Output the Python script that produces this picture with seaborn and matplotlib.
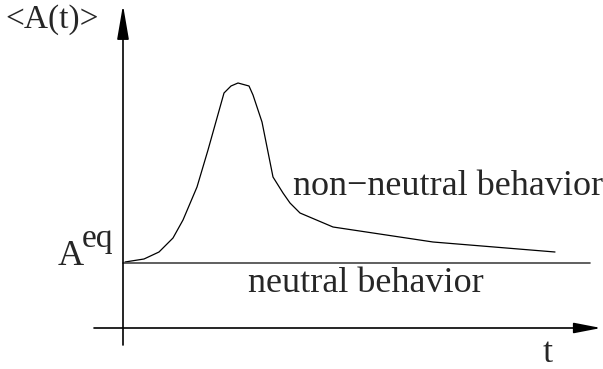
import numpy as np
import pandas as pd
import seaborn as sns
import matplotlib
matplotlib.use("Agg")
import matplotlib.pyplot as plt

t_vals = [2, 21, 36, 50, 60, 74, 85, 101, 108, 115, 126, 130, 139, 150, 160, 167, 177, 210, 310, 432]
a_vals = [1, 4, 11, 25, 43, 76, 113, 170, 177, 180, 177, 168, 141, 86, 70, 60, 50, 36, 21, 11]
a_eq = 0
t_end = 467

curve_df = pd.DataFrame({"t": t_vals, "A": a_vals})

sns.set_style("white")
plt.rcParams["font.family"] = ["Liberation Serif", "DejaVu Serif"]

fig = plt.figure(figsize=(6.03, 3.69), dpi=100)
ax = fig.add_axes([0, 0, 1, 1])

sns.lineplot(data=curve_df, x="t", y="A", color="black", lw=0.9, ax=ax, sort=False)
ax.plot([0, t_end], [a_eq, a_eq], color="#444444", lw=1.2)

# axes drawn as arrows
ax.annotate("", xy=(478, -65), xytext=(-29, -65),
            arrowprops=dict(arrowstyle="-|>,head_length=1.65,head_width=0.32",
                            mutation_scale=10, lw=1.2, color="black", shrinkA=0, shrinkB=0))
ax.annotate("", xy=(0, 258), xytext=(0, -82),
            arrowprops=dict(arrowstyle="-|>,head_length=2.1,head_width=0.36",
                            mutation_scale=10, lw=1.2, color="black", shrinkA=0, shrinkB=0))

fs = 26
ax.text(-118, 235, "<A(t)>", fontsize=fs - 2, va="baseline", ha="left")
ax.text(-65, -2, "A", fontsize=fs, va="baseline", ha="left")
ax.text(-41, 16, "eq", fontsize=fs - 2, va="baseline", ha="left")
ax.text(170, 68, "non\u2212neutral behavior", fontsize=fs, va="baseline", ha="left")
ax.text(125, -29, "neutral behavior", fontsize=fs, va="baseline", ha="left")
ax.text(420, -99, "t", fontsize=fs, va="baseline", ha="left")

ax.set_xlim(-123, 480)
ax.set_ylim(-106, 263)
ax.axis("off")

fig.savefig("out.png", dpi=100)
